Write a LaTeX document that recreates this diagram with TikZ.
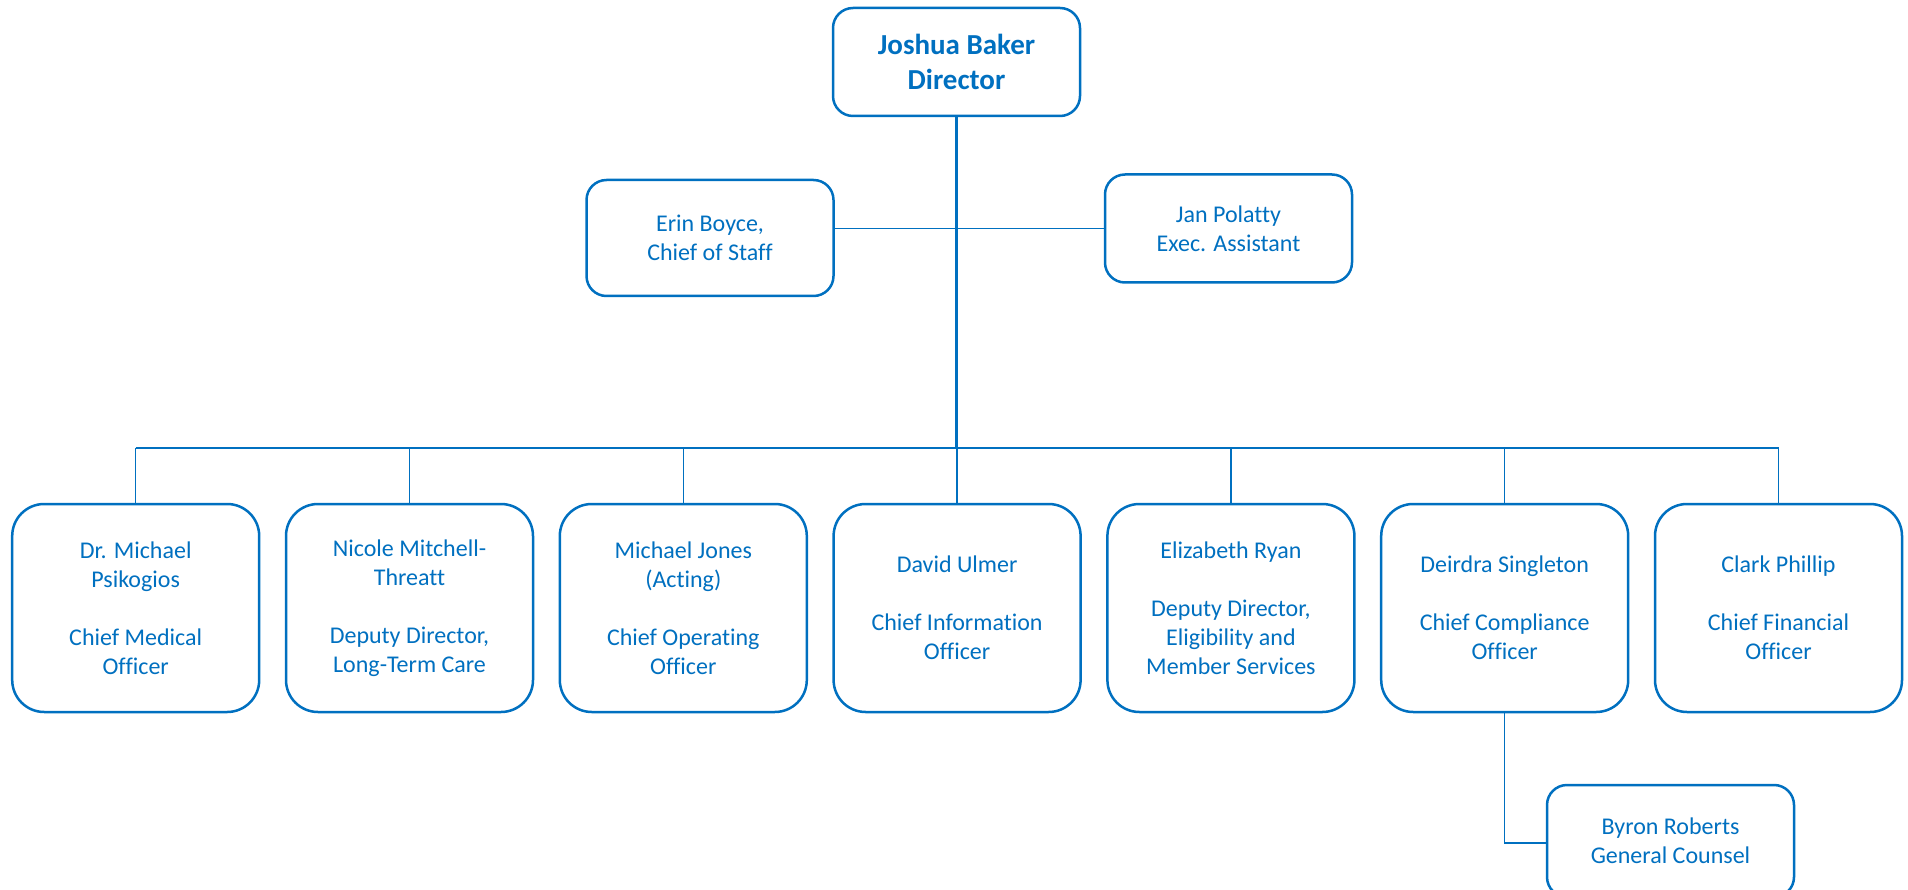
\documentclass[tikz,border=0pt]{standalone}
\usepackage{fontspec}
\setmainfont{Carlito}[Ligatures=NoCommon]
\usetikzlibrary{positioning}
\definecolor{orgblue}{HTML}{0070C0}
\tikzstyle{headbox} = [rectangle, rounded corners=20pt, minimum width=247pt, minimum height=108pt, inner sep=0pt, text centered, align=center, draw=orgblue, line width=2.5pt, fill=white, text=orgblue, font=\fontsize{29pt}{35pt}\selectfont\bfseries]
\tikzstyle{aidebox} = [rectangle, rounded corners=20pt, minimum width=247pt, minimum height=108pt, inner sep=0pt, text centered, align=center, draw=orgblue, line width=2.5pt, fill=white, text=orgblue, font=\fontsize{24pt}{29pt}\selectfont]
\tikzstyle{staffbox} = [rectangle, rounded corners=32pt, minimum width=247pt, minimum height=208pt, inner sep=0pt, text centered, align=center, draw=orgblue, line width=2.5pt, fill=white, text=orgblue, font=\fontsize{24pt}{29pt}\selectfont]
\tikzstyle{link} = [draw=orgblue, line width=1.3pt]
\tikzstyle{trunk} = [draw=orgblue, line width=3pt]

\begin{document}
\begin{tikzpicture}[x=1pt, y=-1pt, node distance=273.8pt]
    \useasboundingbox (0,0) rectangle (1908,890);
    \node (dir) [headbox] at (956.5,62) {Joshua Baker\\Director};
    \node (cos) [aidebox, minimum height=116pt] at (710,238) {Erin Boyce,\\Chief of Staff};
    \node (ea) [aidebox] at (1228.5,228.5) {Jan Polatty\\Exec. Assistant};

    \node (cmo) [staffbox] at (135.7,608) {Dr. Michael\\Psikogios\\~\\Chief Medical\\Officer};
    \node (ltc) [staffbox, right of=cmo] {Nicole Mitchell-\\Threatt\\~\\Deputy Director,\\Long-Term Care};
    \node (coo) [staffbox, right of=ltc] {Michael Jones\\(Acting)\\~\\Chief Operating\\Officer};
    \node (cio) [staffbox, right of=coo] {David Ulmer\\~\\Chief Information\\Officer};
    \node (dd) [staffbox, right of=cio] {Elizabeth Ryan\\~\\Deputy Director,\\Eligibility and\\Member Services};
    \node (cco) [staffbox, right of=dd] {Deirdra Singleton\\~\\Chief Compliance\\Officer};
    \node (cfo) [staffbox, right of=cco] {Clark Phillip\\~\\Chief Financial\\Officer};
    % bottom edge runs just past the page
    \node (gc) [aidebox, minimum height=112pt] at (1670.5,841) {Byron Roberts\\General Counsel};

    \coordinate (bus) at (956.5,448);

    \draw [link] (cos.east |- ea.west) -- (ea.west -| dir.south);
    \draw [link] (ea.west) -- (ea.west -| dir.south);
    \draw [link] (cmo.north |- bus) -- (cfo.north |- bus);
    \foreach \n in {cmo,ltc,coo,cio,dd,cco,cfo}
        \draw [link] (\n.north) -- (\n.north |- bus);
    \draw [trunk] (dir.south) -- (bus);
    \draw [link] (cco.south) |- ([yshift=-2pt]gc.west);
\end{tikzpicture}
\end{document}
